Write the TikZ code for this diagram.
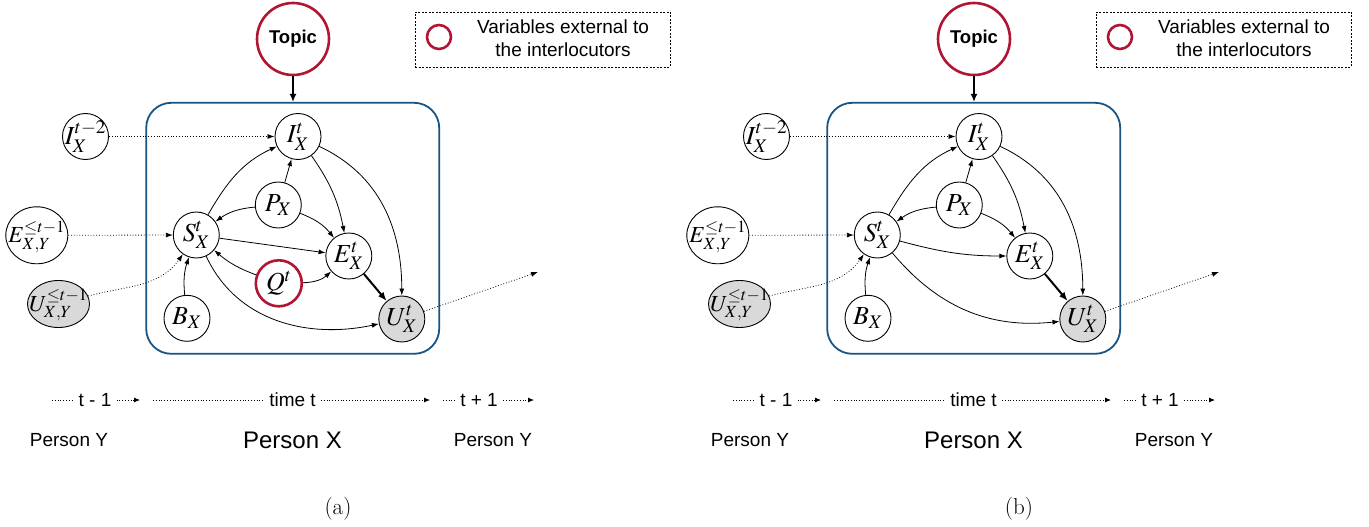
\documentclass[tikz,border=0pt]{standalone}
\usepackage{mathptmx}
\usepackage[no-math]{fontspec}
\newfontfamily\hel{Liberation Sans}
\usetikzlibrary{arrows.meta,shapes.geometric}
\definecolor{topred}{RGB}{178,20,52}
\definecolor{boxblue}{RGB}{24,84,132}
\definecolor{shade}{RGB}{217,217,217}
\tikzset{
  var/.style={circle, draw, line width=0.9pt, minimum size=46pt, inner sep=0pt,
    font=\fontsize{26}{30}\selectfont},
  obs/.style={var, fill=shade},
  extvar/.style={var, draw=topred, line width=2.6pt},
  oval/.style={ellipse, draw, line width=0.9pt, inner sep=0pt, text height=16pt, text depth=2pt,
    font=\fontsize{23}{27}\selectfont},
  topicnode/.style={circle, draw=topred, line width=2.6pt, minimum size=72pt, inner sep=0pt,
    font=\hel\bfseries\fontsize{18.5}{20}\selectfont},
  edge/.style={-{Latex[length=7pt,width=5pt]}, line width=0.8pt},
  dots/.style={edge, dotted},
  thickedge/.style={-{Latex[length=9pt,width=7pt]}, line width=2pt},
  plate/.style={draw=boxblue, line width=1.8pt, rounded corners=25pt, inner sep=0pt},
  legendbox/.style={draw, line width=0.8pt, dash pattern=on 2pt off 1.5pt, inner sep=0pt},
  legendtext/.style={font=\hel\fontsize{19}{23}\selectfont, align=center},
  tl/.style={font=\hel\fontsize{19}{22}\selectfont, inner sep=5pt},
  tlline/.style={line width=0.8pt, dotted},
  tlarrow/.style={line width=0.8pt, dotted, -{Latex[length=6pt,width=5pt]}},
  person/.style={font=\hel\fontsize{19}{22}\selectfont},
  personbig/.style={font=\hel\fontsize{24}{28}\selectfont},
  caption/.style={font=\fontsize{23}{26}\selectfont}
}
\newcommand\mx[1]{\makebox[0pt]{$#1$}}
\newcommand\drawpanel[3]{%
\begin{scope}[xshift=#2pt]
  \node[plate, minimum width=293pt, minimum height=251pt] (#1box) at (292.7,228.3) {};
  \node[topicnode] (#1top) at (293,39) {Topic};
  \draw[line width=1.5pt, -{Latex[length=8pt,width=7pt]}] (#1top.south) -- (#1top.south |- #1box.north);
  \node[legendbox, minimum width=255pt, minimum height=55pt] (#1leg) at (542.5,39.5) {};
  \node[circle, draw=topred, line width=2.6pt, minimum size=24pt, inner sep=0pt] (#1legc) at (439,37) {};
  \node[legendtext] (#1legt) at (563,38) {Variables external to\\the interlocutors};
  \node[var] (#1Iext) at (85.5,136.5) {\mx{I^{t-2}_X}};
  \node[var] (#1I) at (298,136.5) {\mx{I^t_X}};
  \node[var] (#1P) at (278.3,205) {\mx{P_X}};
  \node[var] (#1S) at (196.3,235) {\mx{S^t_X}};
  \node[oval, minimum width=62pt, minimum height=57pt] (#1Eext) at (36.8,235.3) {\mx{E^{\le t-1}_{X,Y}}};
  \node[var] (#1E) at (348.8,256) {\mx{E^t_X}};
  \node[oval, fill=shade, minimum width=62pt, minimum height=47pt] (#1Uext) at (58.5,304) {\mx{U^{\le t-1}_{X,Y}}};
  \node[var] (#1B) at (187,318.3) {\mx{B_X}};
  \node[obs] (#1U) at (401.8,319) {\mx{U^t_X}};
  \coordinate (#1out) at (538,272);
  \draw[dots] (#1Iext) -- (#1I);
  \draw[dots] (#1Eext) -- (#1S);
  \draw[dots] (#1Uext) to[out=15,in=235] (#1S);
  \draw[edge] (#1S) to[out=60,in=205] (#1I);
  \draw[edge] (#1P) -- (#1I);
  \draw[edge] (#1P) to[bend right=15] (#1S);
  \draw[edge] (#1P) to[bend left=15] (#1E);
  \draw[edge] (#1I) to[bend left=12] (#1E);
  \draw[edge] (#1I) to[out=-25,in=90] (#1U);
  \draw[edge] (#1B) to[bend left=12] (#1S);
  \draw[thickedge] (#1E) -- (#1U);
  \draw[dots] (#1U) -- (#1out);
  \node[tl] (#1ta) at (95,400) {t - 1};
  \coordinate (#1taL) at (52,400);
  \coordinate (#1taR) at (140,400);
  \draw[tlline] (#1taL) -- (#1ta.west);
  \draw[tlarrow] (#1ta.east) -- (#1taR);
  \node[tl] (#1tb) at (292.5,400) {time t};
  \coordinate (#1tbL) at (153,400);
  \coordinate (#1tbR) at (430,400);
  \draw[tlline] (#1tbL) -- (#1tb.west);
  \draw[tlarrow] (#1tb.east) -- (#1tbR);
  \node[tl] (#1tc) at (479,400) {t + 1};
  \coordinate (#1tcL) at (443,400);
  \coordinate (#1tcR) at (534,400);
  \draw[tlline] (#1tcL) -- (#1tc.west);
  \draw[tlarrow] (#1tc.east) -- (#1tcR);
  \node[person] (#1py1) at (69,440) {Person Y};
  \node[personbig] (#1px) at (292.5,440) {Person X};
  \node[person] (#1py2) at (493,440) {Person Y};
  \node[caption] (#1cap) at (338,509) {#3};
\end{scope}}
\begin{document}
\begin{tikzpicture}[x=1pt,y=-1pt]
  \useasboundingbox (0,0) rectangle (1369,527);
  \drawpanel{a}{0}{(a)}
  \drawpanel{b}{681}{(b)}
  % panel (a) specific
  \node[extvar] (aQ) at (278.8,283.3) {\mx{Q^t}};
  \draw[edge] (aS) -- (aE);
  \draw[edge] (aQ) to[bend left=10] (aS);
  \draw[edge] (aQ) to[bend right=20] (aE);
  \draw[edge] (aS) to[out=-65,in=192] (aU);
  % panel (b) specific
  \draw[edge] (bS) to[out=-15,in=180] (bE);
  \draw[edge] (bS) to[out=-50,in=186] (bU);
\end{tikzpicture}
\end{document}
